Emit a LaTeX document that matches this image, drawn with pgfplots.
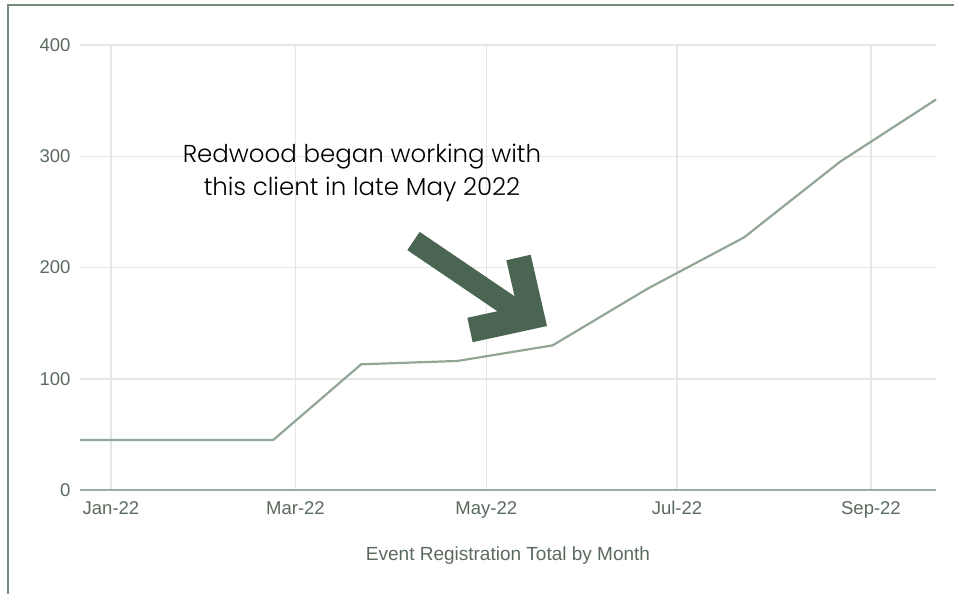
\documentclass[border=0pt]{standalone}
\usepackage{pgfplots}
\pgfplotsset{compat=1.18}
\usepackage{fontspec}
\setmainfont{Liberation Sans}
\newfontfamily\annfont{Poppins}[UprightFont=* Light]
\definecolor{framec}{RGB}{120,140,124}
\definecolor{lbl}{RGB}{90,106,93}
\definecolor{gridc}{RGB}{228,231,228}
\definecolor{axisc}{RGB}{160,172,162}
\definecolor{linec}{RGB}{146,166,150}
\definecolor{arrowc}{RGB}{74,102,82}
\begin{document}
\begin{tikzpicture}[x=1pt,y=-1pt]
\path[use as bounding box] (0,0) rectangle (954,594);
\draw[framec, line width=2pt] (8,595) -- (8,5) -- (955,5);
\begin{axis}[
  at={(80pt,-490pt)}, anchor=south west,
  scale only axis, width=856pt, height=445pt,
  xmin=-9.9, xmax=263.8, ymin=0, ymax=400,
  xtick={0,59,120,181,243},
  xticklabels={Jan-22,Mar-22,May-22,Jul-22,Sep-22},
  ytick={0,100,200,300,400},
  grid=major,
  major grid style={gridc, line width=1.5pt},
  axis x line=bottom, axis y line=left,
  y axis line style={draw=none},
  x axis line style={axisc, line width=2.5pt, -},
  tick style={draw=none},
  major tick length=0pt,
  /pgf/number format/assume math mode=true,
  ticklabel style={font=\fontsize{18.5}{20}\selectfont, text=lbl},
  yticklabel style={xshift=-6pt},
  xticklabel style={yshift=-8pt},
  clip=false,
]
\addplot[linec, line width=2.2pt] coordinates {
  (-9.9,45) (20.5,45) (51.9,45) (80.0,113) (110.8,116) (141.2,130)
  (171.6,181) (202.4,227) (233.1,295) (263.8,351)
};
\end{axis}
\node[text=lbl, font=\fontsize{19}{21}\selectfont] at (508,556) {Event Registration Total by Month};
\node[align=center, font=\annfont\fontsize{24.5}{33}\selectfont] at (362,173) {Redwood began working with\\this client in late May 2022};
\draw[arrowc, line width=22pt, line cap=butt] (413.5,241) -- (527,318);
\draw[arrowc, line width=25pt, line cap=butt, line join=miter] (470,330) -- (532,316.5) -- (518.5,257.5);
\end{tikzpicture}
\end{document}
